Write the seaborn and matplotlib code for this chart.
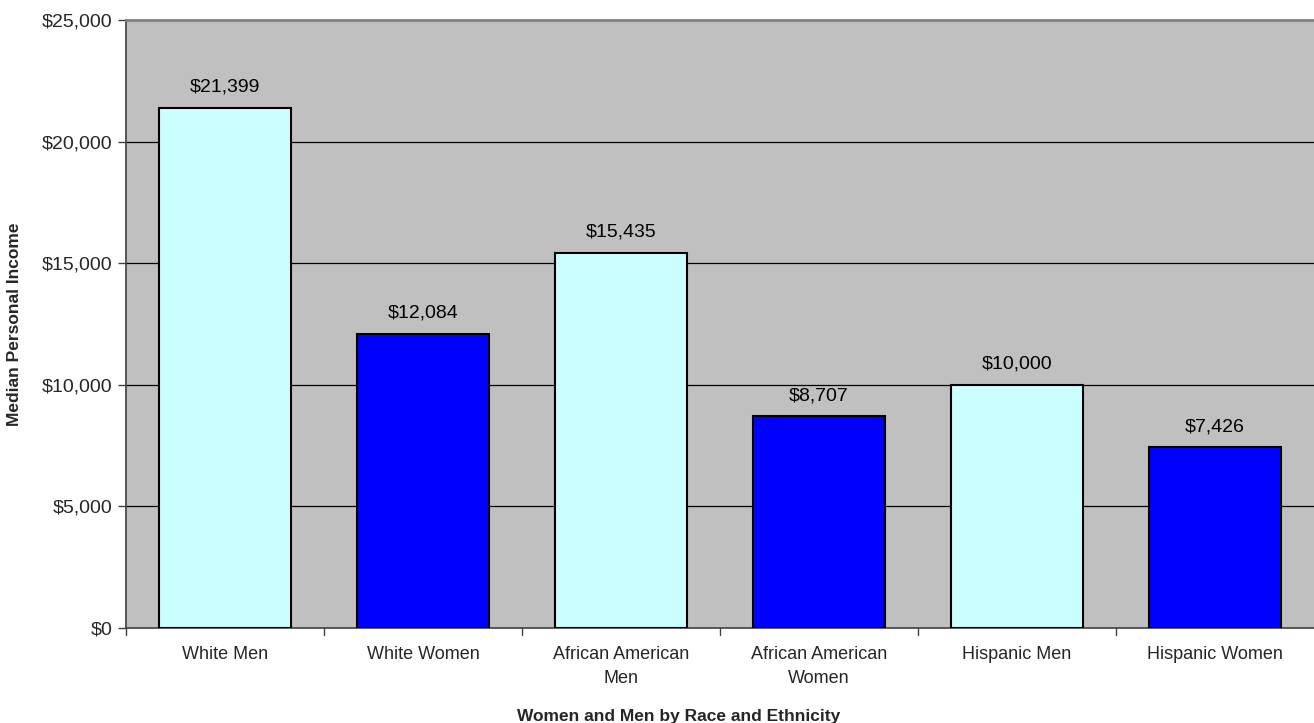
import matplotlib
matplotlib.use("Agg")
import matplotlib.pyplot as plt
import seaborn as sns
import pandas as pd
import numpy as np

categories = ["White Men", "White Women", "African American\nMen", "African American\nWomen", "Hispanic Men", "Hispanic Women"]
values = [21399, 12084, 15435, 8707, 10000, 7426]
genders = ["Men", "Women", "Men", "Women", "Men", "Women"]
yticks = [0, 5000, 10000, 15000, 20000, 25000]

sns.set_theme(style="white")
plt.rcParams["font.family"] = ["Liberation Sans", "DejaVu Sans"]

df = pd.DataFrame({"cat": categories, "val": values, "g": genders})

fig = plt.figure(figsize=(13.14, 7.23), dpi=100)
ax = fig.add_axes([126/1314, 95/723, 1188/1314, 608/723])
ax.set_facecolor("#C0C0C0")

sns.barplot(data=df, x="cat", y="val", hue="g", dodge=False, saturation=1,
            palette={"Men": "#CCFFFF", "Women": "#0000FF"},
            edgecolor="black", linewidth=1.5, width=0.667, legend=False, ax=ax, zorder=3)

ax.set_ylim(0, 25000)
ax.set_xlim(-0.5, 5.5)
ax.set_yticks(yticks)
ax.set_yticklabels([f"${v:,}" for v in yticks], fontsize=14)
for y in yticks[1:-1]:
    ax.axhline(y, color="black", linewidth=0.9, zorder=1)

ax.set_xticks(np.arange(6))
ax.set_xticklabels(categories, fontsize=13, linespacing=1.55)
ax.tick_params(axis="x", length=0, pad=13)
for b in np.arange(-0.5, 5.5, 1.0):
    ax.plot([b, b], [0, -0.012], transform=ax.get_xaxis_transform(), color="#404040", lw=1, clip_on=False)
ax.tick_params(axis="y", length=6, width=1, color="#404040", direction="out", left=True, pad=4)

for i, v in enumerate(values):
    ax.text(i, v + 500, f"${v:,}", ha="center", va="bottom", fontsize=14, color="black")

ax.set_xlabel("Women and Men by Race and Ethnicity", fontsize=12.5, fontweight="bold")
ax.set_ylabel("Median Personal Income", fontsize=12.5, fontweight="bold")
ax.xaxis.set_label_coords(0.4655, -0.134)
ax.yaxis.set_label_coords(-0.0875, 0.5)

for s in ["left", "bottom"]:
    ax.spines[s].set_color("#404040")
    ax.spines[s].set_linewidth(1.2)
ax.spines["top"].set_color("#808080")
ax.spines["top"].set_linewidth(2)
ax.spines["right"].set_visible(False)

fig.savefig("out.png", dpi=100)
